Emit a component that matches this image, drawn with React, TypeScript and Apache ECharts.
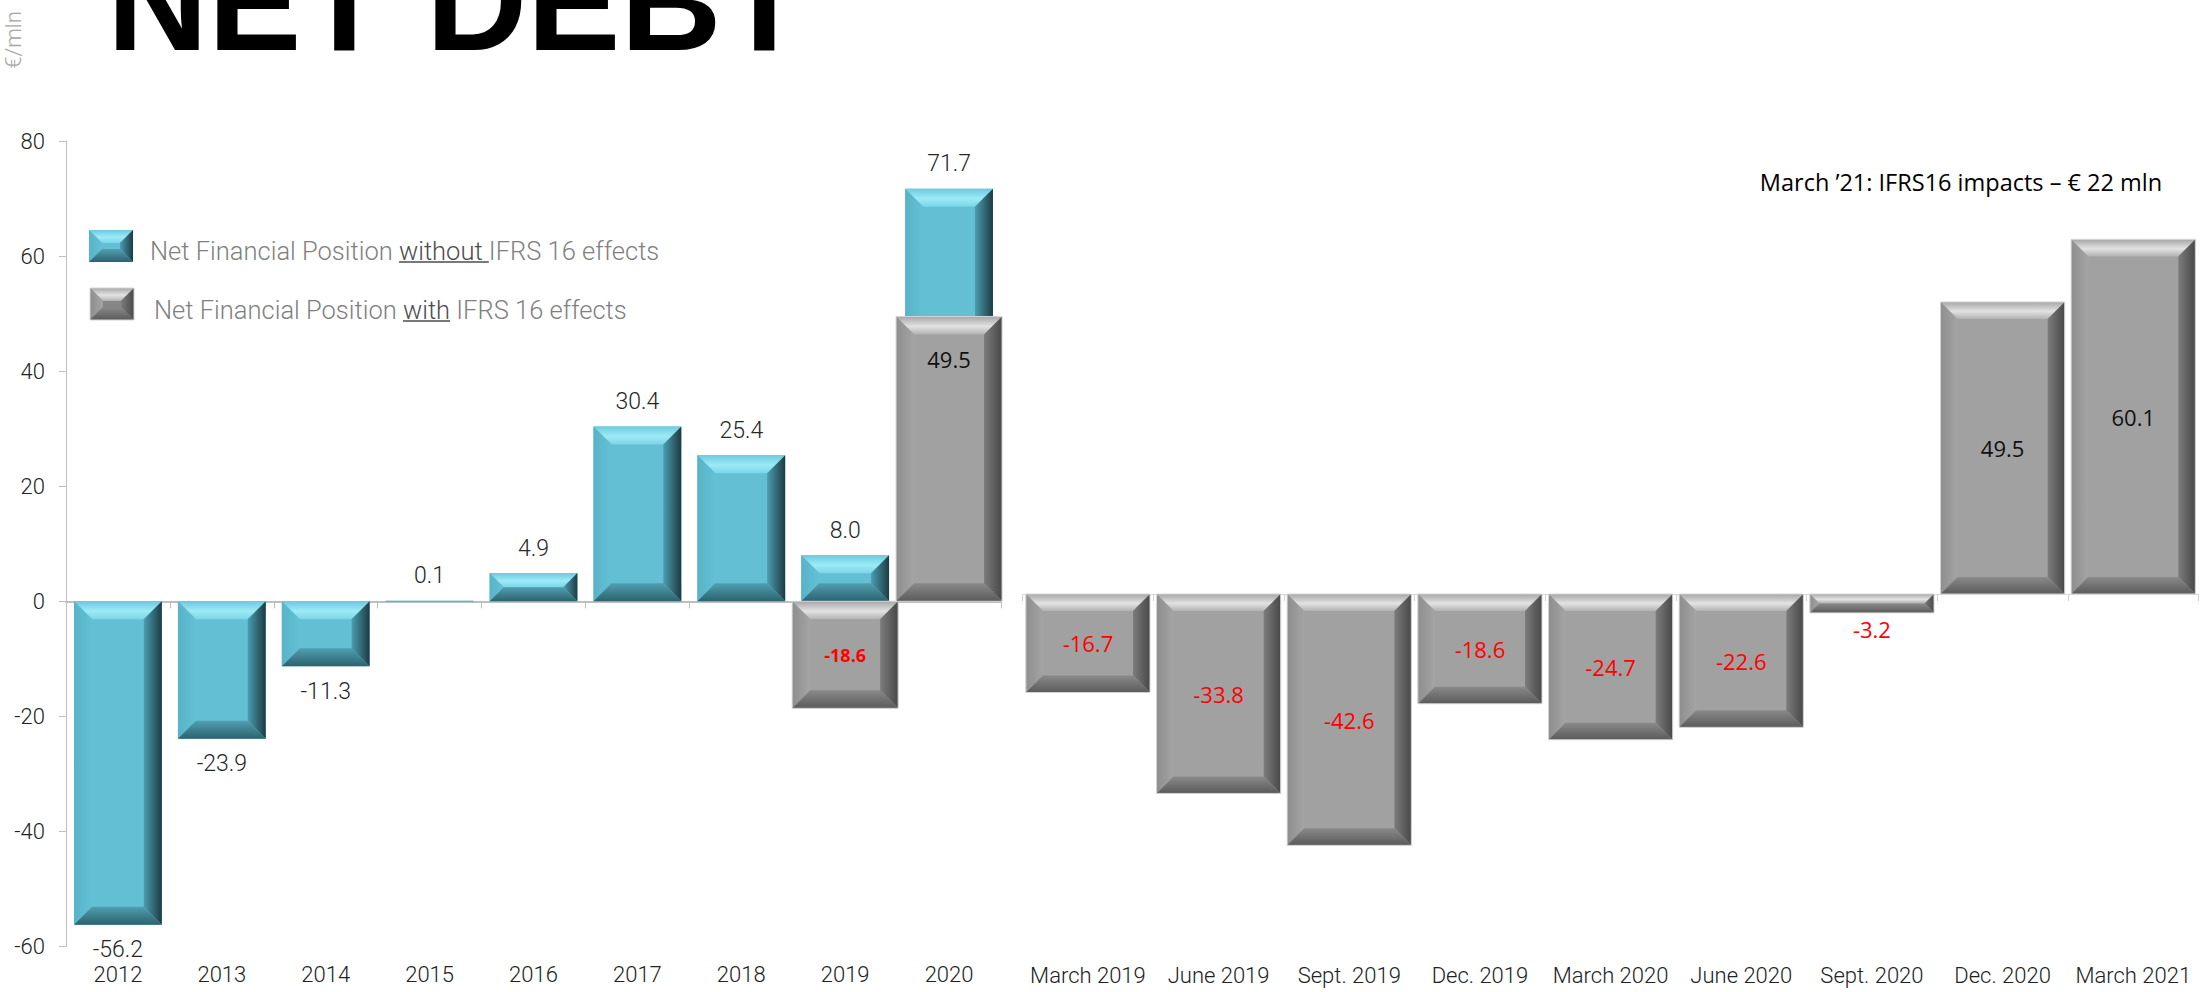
import React, { useEffect, useRef } from "react";
import * as echarts from "echarts";

const years = ["2012", "2013", "2014", "2015", "2016", "2017", "2018", "2019", "2020"];
const withoutIfrs = [-56.2, -23.9, -11.3, 0.1, 4.9, 30.4, 25.4, 8.0, 71.7];
const withIfrsYears: (number | null)[] = [null, null, null, null, null, null, null, -18.6, 49.5];
const quarters = [
  "March 2019", "June 2019", "Sept. 2019", "Dec. 2019", "March 2020",
  "June 2020", "Sept. 2020", "Dec. 2020", "March 2021",
];
const withIfrsQuarters = [-16.7, -33.8, -42.6, -18.6, -24.7, -22.6, -3.2, 49.5, 60.1];
const yMin = -60;
const yMax = 80;
const yInterval = 20;

const seriesNames = [
  "Net Financial Position without IFRS 16 effects",
  "Net Financial Position with IFRS 16 effects",
];

type Stop = [number, string];
interface Palette {
  face: string;
  top: Stop[];
  left: Stop[];
  right: Stop[];
  bottom: Stop[];
  stroke?: string;
}

const BLUE: Palette = {
  face: "#62bfd4",
  top: [[0, "#6ccade"], [0.55, "#9deaf7"], [1, "#7bd5e8"]],
  left: [[0, "#58b3c7"], [1, "#63c0d5"]],
  right: [[0, "#4b9db0"], [1, "#1d3b43"]],
  bottom: [[0, "#509fb1"], [1, "#2d626e"]],
};

const GREY: Palette = {
  face: "#a1a1a1",
  top: [[0, "#a6a6a6"], [0.55, "#e2e2e2"], [1, "#b2b2b2"]],
  left: [[0, "#8e8e8e"], [1, "#a4a4a4"]],
  right: [[0, "#7c7c7c"], [1, "#484848"]],
  bottom: [[0, "#8a8a8a"], [1, "#5a5a5a"]],
  stroke: "#d4d4d4",
};

const GREY_ICON: Palette = { ...GREY, face: "#858585" };

function lin(x2: number, y2: number, stops: Stop[]) {
  return {
    type: "linear",
    x: 0,
    y: 0,
    x2,
    y2,
    colorStops: stops.map(([offset, color]) => ({ offset, color })),
  };
}

function bevelShapes(x: number, y: number, w: number, h: number, b: number, pal: Palette): any[] {
  const els: any[] = [
    { type: "rect", shape: { x, y, width: w, height: h }, style: { fill: pal.face } },
    {
      type: "polygon",
      shape: { points: [[x, y], [x + w, y], [x + w - b, y + b], [x + b, y + b]] },
      style: { fill: lin(0, 1, pal.top) },
    },
    {
      type: "polygon",
      shape: { points: [[x, y], [x + b, y + b], [x + b, y + h - b], [x, y + h]] },
      style: { fill: lin(1, 0, pal.left) },
    },
    {
      type: "polygon",
      shape: { points: [[x + w, y], [x + w, y + h], [x + w - b, y + h - b], [x + w - b, y + b]] },
      style: { fill: lin(1, 0, pal.right) },
    },
    {
      type: "polygon",
      shape: { points: [[x, y + h], [x + w, y + h], [x + w - b, y + h - b], [x + b, y + h - b]] },
      style: { fill: lin(0, 1, pal.bottom) },
    },
  ];
  if (pal.stroke) {
    els.push({
      type: "rect",
      shape: { x, y, width: w, height: h },
      style: { fill: "none", stroke: pal.stroke, lineWidth: 1 },
    });
  }
  return els;
}

type LabelFn = (v: number, cx: number, y0: number, y1: number, h: number) => any;

const blueLabel: LabelFn = (v, cx, y0, y1) => ({
  text: v.toFixed(1),
  x: cx,
  y: v >= 0 ? y1 - 25 : y1 + 25,
  fill: "#262626",
  fontSize: 23,
  fontFamily: "Roboto",
  fontWeight: 300,
  align: "center",
  verticalAlign: "middle",
});

const leftGreyLabel: LabelFn = (v, cx, y0, y1) =>
  v < 0
    ? {
        text: v.toFixed(1),
        x: cx,
        y: (y0 + y1) / 2,
        fill: "#ff0000",
        fontSize: 18,
        fontFamily: "Open Sans",
        fontWeight: "bold",
        align: "center",
        verticalAlign: "middle",
      }
    : {
        text: v.toFixed(1),
        x: cx,
        y: Math.min(y0, y1) + 43,
        fill: "#111111",
        fontSize: 22,
        fontFamily: "Open Sans",
        align: "center",
        verticalAlign: "middle",
      };

const rightLabel: LabelFn = (v, cx, y0, y1, h) => ({
  text: v.toFixed(1),
  x: cx,
  y: h >= 40 ? (y0 + y1) / 2 : v < 0 ? y1 + 16 : y1 - 16,
  fill: v < 0 ? "#ff0000" : "#111111",
  fontSize: 22,
  fontFamily: "Open Sans",
  align: "center",
  verticalAlign: "middle",
});

function makeRender(pal: Palette, ratio: number, bevelMax: number, labelFn: LabelFn) {
  return (params: any, api: any) => {
    const idx = api.value(0);
    const v = api.value(1);
    if (v == null || isNaN(v)) return null;
    const p0 = api.coord([idx, 0]);
    const p1 = api.coord([idx, v]);
    const band = api.size([1, 0])[0];
    const w = band * ratio;
    const x = p0[0] - w / 2;
    const y = Math.min(p0[1], p1[1]);
    const h = Math.max(Math.abs(p1[1] - p0[1]), 0.6);
    const b = Math.min(bevelMax, h / 2, w / 2);
    const children = bevelShapes(x, y, w, h, b, pal);
    children.push({ type: "text", z2: 20, style: labelFn(v, p0[0], p0[1], p1[1], h) });
    return { type: "group", children };
  };
}

function measure(text: string, font: string): number {
  const ctx = document.createElement("canvas").getContext("2d");
  if (!ctx) return text.length * 12;
  ctx.font = font;
  return ctx.measureText(text).width;
}

function buildOption() {
  const legFontSize = 25.5;
  const legFont = `300 ${legFontSize}px Roboto`;
  const legA = { fill: "#7f7f7f", fontSize: legFontSize, fontFamily: "Roboto", fontWeight: 300 };
  const legB = { fill: "#4d4d4d", fontSize: legFontSize, fontFamily: "Roboto", fontWeight: 300 };
  const row1 = { iconX: 89, iconY: 230, textX: 150, textY: 251 };
  const row2 = { iconX: 90, iconY: 288, textX: 154, textY: 310 };
  const pre = "Net Financial Position ";
  const w1pre = measure(pre, legFont);
  const w1word = measure("without ", legFont);
  const w2word = measure("with", legFont);

  const axisLabelStyle = {
    fontSize: 22,
    fontFamily: "Roboto",
    fontWeight: 300,
    color: "#222222",
  };

  return {
    animation: false,
    backgroundColor: "#ffffff",
    textStyle: { fontFamily: "Roboto" },
    grid: [
      { left: 66, top: 141, width: 935, height: 805.5 },
      { left: 1022.6, top: 122, width: 1176, height: 826 },
    ],
    xAxis: [
      {
        gridIndex: 0,
        type: "category",
        data: years,
        position: "bottom",
        axisLine: { show: false, onZero: false },
        axisTick: { show: false },
        axisLabel: { ...axisLabelStyle, margin: 17, interval: 0 },
      },
      {
        gridIndex: 0,
        type: "category",
        data: years,
        position: "bottom",
        axisLine: {
          show: true,
          onZero: true,
          onZeroAxisIndex: 0,
          lineStyle: { color: "#bfbfbf", width: 2 },
        },
        axisTick: { show: true, length: 7, interval: 0, lineStyle: { color: "#bfbfbf" } },
        axisLabel: { show: false, interval: 0 },
      },
      {
        gridIndex: 1,
        type: "category",
        data: quarters,
        position: "bottom",
        axisLine: { show: false, onZero: false },
        axisTick: { show: false },
        axisLabel: { ...axisLabelStyle, margin: 16, interval: 0 },
      },
      {
        gridIndex: 1,
        type: "category",
        data: quarters,
        position: "bottom",
        axisLine: {
          show: true,
          onZero: true,
          onZeroAxisIndex: 1,
          lineStyle: { color: "#dadada", width: 1 },
        },
        axisTick: { show: true, length: 7, interval: 0, lineStyle: { color: "#d0d0d0" } },
        axisLabel: { show: false, interval: 0 },
      },
    ],
    yAxis: [
      {
        gridIndex: 0,
        type: "value",
        min: yMin,
        max: yMax,
        interval: yInterval,
        axisLine: { show: true, onZero: false, lineStyle: { color: "#bfbfbf", width: 1 } },
        axisTick: { show: true, length: 7, lineStyle: { color: "#bfbfbf" } },
        splitLine: { show: false },
        axisLabel: { ...axisLabelStyle, margin: 21 },
      },
      {
        gridIndex: 1,
        type: "value",
        min: yMin,
        max: yMax,
        interval: yInterval,
        show: false,
        axisLine: { show: false, onZero: false },
        axisTick: { show: false },
        axisLabel: { show: false },
        splitLine: { show: false },
      },
    ],
    series: [
      {
        name: seriesNames[0],
        type: "custom",
        xAxisIndex: 0,
        yAxisIndex: 0,
        z: 2,
        clip: false,
        renderItem: makeRender(BLUE, 0.845, 18, blueLabel),
        data: withoutIfrs.map((v, i) => [i, v]),
      },
      {
        name: seriesNames[1],
        type: "custom",
        xAxisIndex: 1,
        yAxisIndex: 0,
        z: 3,
        clip: false,
        renderItem: makeRender(GREY, 1.02, 18, leftGreyLabel),
        data: withIfrsYears
          .map((v, i) => (v == null ? null : [i, v]))
          .filter((d) => d !== null),
      },
      {
        name: seriesNames[1] + " (quarterly)",
        type: "custom",
        xAxisIndex: 3,
        yAxisIndex: 1,
        z: 3,
        clip: false,
        renderItem: makeRender(GREY, 0.95, 17, rightLabel),
        data: withIfrsQuarters.map((v, i) => [i, v]),
      },
    ],
    graphic: [
      {
        type: "text",
        x: 107,
        y: 1,
        style: {
          text: "NET DEBT",
          fill: "#000000",
          fontSize: 140,
          fontFamily: "Liberation Sans",
          fontWeight: "bold",
          align: "left",
          verticalAlign: "middle",
        },
      },
      {
        type: "text",
        x: 13,
        y: 40,
        rotation: Math.PI / 2,
        style: {
          text: "€/mln",
          fill: "#a6a6a6",
          fontSize: 22,
          fontFamily: "Roboto",
          fontWeight: 300,
          align: "center",
          verticalAlign: "middle",
        },
      },
      {
        type: "text",
        x: 1961,
        y: 182,
        style: {
          text: "March ’21: IFRS16 impacts – € 22 mln",
          fill: "#000000",
          fontSize: 23.5,
          fontFamily: "Open Sans",
          align: "center",
          verticalAlign: "middle",
        },
      },
      {
        type: "group",
        children: bevelShapes(row1.iconX, row1.iconY, 44, 32, 13, BLUE),
      },
      {
        type: "group",
        children: bevelShapes(row2.iconX, row2.iconY, 44, 32, 13, GREY_ICON),
      },
      {
        type: "text",
        x: row1.textX,
        y: row1.textY,
        style: {
          text: "{a|Net Financial Position }{b|without }{a|IFRS 16 effects}",
          rich: { a: legA, b: legB },
          align: "left",
          verticalAlign: "middle",
        },
      },
      {
        type: "text",
        x: row2.textX,
        y: row2.textY,
        style: {
          text: "{a|Net Financial Position }{b|with}{a| IFRS 16 effects}",
          rich: { a: legA, b: legB },
          align: "left",
          verticalAlign: "middle",
        },
      },
      {
        type: "line",
        shape: {
          x1: row1.textX + w1pre,
          y1: row1.textY + 11,
          x2: row1.textX + w1pre + w1word,
          y2: row1.textY + 11,
        },
        style: { stroke: "#4d4d4d", lineWidth: 1.5 },
      },
      {
        type: "line",
        shape: {
          x1: row2.textX + w1pre,
          y1: row2.textY + 11,
          x2: row2.textX + w1pre + w2word,
          y2: row2.textY + 11,
        },
        style: { stroke: "#4d4d4d", lineWidth: 1.5 },
      },
    ],
  };
}

export default function App() {
  const ref = useRef<HTMLDivElement>(null);
  useEffect(() => {
    if (!ref.current) return;
    const chart = echarts.init(ref.current, null, { renderer: "svg" });
    chart.setOption(buildOption() as any);
    return () => {
      chart.dispose();
    };
  }, []);
  return (
    <div
      ref={ref}
      style={{ position: "absolute", left: 0, top: 0, width: 2201, height: 992, background: "#fff" }}
    />
  );
}
